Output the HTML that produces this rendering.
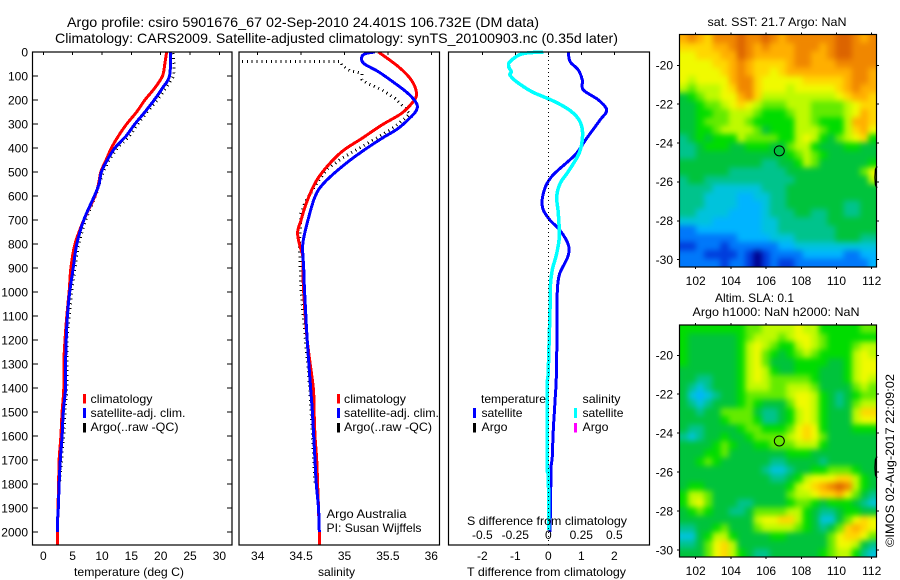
<!DOCTYPE html>
<html lang="en">
<head>
<meta charset="utf-8">
<title>Argo profile csiro 5901676_67</title>
<style>
html,body{margin:0;padding:0;background:#fff;width:900px;height:580px;overflow:hidden}
svg{display:block}
text{font-family:"Liberation Sans",sans-serif;font-size:12px;fill:#000}
.mid{text-anchor:middle}
.end{text-anchor:end}
</style>
</head>
<body>
<svg id="chart" xmlns="http://www.w3.org/2000/svg" width="900" height="580" viewBox="0 0 900 580">
  <defs>
    <filter id="smooth" x="-5%" y="-5%" width="110%" height="110%" color-interpolation-filters="sRGB">
      <feGaussianBlur stdDeviation="3"/>
      <feComponentTransfer><feFuncA type="linear" slope="60"/></feComponentTransfer>
    </filter>
    <clipPath id="clip-sst"><rect x="679.5" y="34.5" width="197" height="232.5"/></clipPath>
    <clipPath id="clip-sla"><rect x="679.5" y="325" width="197" height="232"/></clipPath>
    <clipPath id="clip-p2"><rect x="239" y="52" width="200" height="493"/></clipPath>
  </defs>
  <text x="67" y="27" font-size="14" style="font-size:14px" textLength="472" lengthAdjust="spacingAndGlyphs">Argo profile: csiro 5901676_67 02-Sep-2010 24.401S 106.732E (DM data)</text>
  <text x="55" y="43" style="font-size:14px" textLength="563" lengthAdjust="spacingAndGlyphs">Climatology: CARS2009. Satellite-adjusted climatology: synTS_20100903.nc (0.35d later)</text>

  <g id="heat-sst" clip-path="url(#clip-sst)"><g id="heat-sst-cells" filter="url(#smooth)"></g></g>
  <g id="heat-sla" clip-path="url(#clip-sla)"><g id="heat-sla-cells" filter="url(#smooth)"></g></g>
  <g id="marks"></g>
  <g id="axes"></g>

  <text x="74" y="576" textLength="110" lengthAdjust="spacingAndGlyphs">temperature (deg C)</text>
  <text x="318" y="576" textLength="37" lengthAdjust="spacingAndGlyphs">salinity</text>
  <text x="467" y="576" textLength="159" lengthAdjust="spacingAndGlyphs">T difference from climatology</text>
  <text x="467" y="525" textLength="160" lengthAdjust="spacingAndGlyphs">S difference from climatology</text>

  <g>
    <rect x="83" y="394" width="3" height="9.5" fill="#f00"/>
    <rect x="83" y="408" width="3" height="10" fill="#00f"/>
    <rect x="83" y="423" width="3" height="9.5" fill="#000"/>
    <text x="90.5" y="403" textLength="62" lengthAdjust="spacingAndGlyphs">climatology</text>
    <text x="90.5" y="417" textLength="95" lengthAdjust="spacingAndGlyphs">satellite-adj. clim.</text>
    <text x="90.5" y="431" textLength="88" lengthAdjust="spacingAndGlyphs">Argo(..raw -QC)</text>
  </g>
  <g>
    <rect x="337" y="394" width="3" height="9.5" fill="#f00"/>
    <rect x="337" y="408" width="3" height="10" fill="#00f"/>
    <rect x="337" y="423" width="3" height="9.5" fill="#000"/>
    <text x="344" y="403" textLength="62" lengthAdjust="spacingAndGlyphs">climatology</text>
    <text x="344" y="417" textLength="95" lengthAdjust="spacingAndGlyphs">satellite-adj. clim.</text>
    <text x="344" y="431" textLength="88" lengthAdjust="spacingAndGlyphs">Argo(..raw -QC)</text>
  </g>
  <text x="326.5" y="518" textLength="80" lengthAdjust="spacingAndGlyphs">Argo Australia</text>
  <text x="326.5" y="532" textLength="95" lengthAdjust="spacingAndGlyphs">PI: Susan Wijffels</text>

  <g>
    <text x="481" y="403" textLength="65" lengthAdjust="spacingAndGlyphs">temperature</text>
    <rect x="473" y="408" width="3" height="10" fill="#00f"/>
    <rect x="473" y="423" width="3" height="9.5" fill="#000"/>
    <text x="481.5" y="417" textLength="41" lengthAdjust="spacingAndGlyphs">satellite</text>
    <text x="481.5" y="431" textLength="26" lengthAdjust="spacingAndGlyphs">Argo</text>
    <text x="582.5" y="403" textLength="38" lengthAdjust="spacingAndGlyphs">salinity</text>
    <rect x="574" y="408" width="3" height="10" fill="#0ff"/>
    <rect x="574" y="423" width="3" height="9.5" fill="#f0f"/>
    <text x="582.5" y="417" textLength="41" lengthAdjust="spacingAndGlyphs">satellite</text>
    <text x="582.5" y="431" textLength="26" lengthAdjust="spacingAndGlyphs">Argo</text>
  </g>

  <text x="707.5" y="26" textLength="139" lengthAdjust="spacingAndGlyphs">sat. SST: 21.7 Argo: NaN</text>
  <text x="715" y="302" textLength="79" lengthAdjust="spacingAndGlyphs">Altim. SLA: 0.1</text>
  <text x="692.5" y="316" textLength="167" lengthAdjust="spacingAndGlyphs">Argo h1000: NaN h2000: NaN</text>
  <text transform="translate(894,547) rotate(-90)" x="0" y="0" textLength="173" lengthAdjust="spacingAndGlyphs">©IMOS 02-Aug-2017 22:09:02</text>
</svg>
<script>
// ---- profile depth grids and values ----
const tempClimDepth = [0,50,100,150,200,250,300,350,400,450,500,550,600,700,800,900,1000,1100,1200,1300,1400,1500,1600,1700,1800,1900,2000,2055];
const tempClim = [21.0,20.7,20.3,19.0,17.3,15.9,14.2,12.8,11.6,10.7,9.8,9.4,8.8,6.9,5.4,4.7,4.4,4.0,3.7,3.5,3.5,3.2,3.0,2.7,2.6,2.5,2.4,2.4];
const tempSatDepth = [0,100,150,200,250,300,350,400,450,500,550,600,700,800,900,1000,1100,1200,1300,1400,1500,1600,1700,1800,1900,1960,2000];
const tempSat = [21.7,21.5,20.3,18.9,17.3,15.6,14.1,12.2,10.9,9.9,9.5,8.7,6.9,5.7,5.1,4.5,4.1,3.9,3.8,3.8,3.4,3.2,2.9,2.7,2.55,2.4,2.4];
const tempArgoDepth = [5,50,100,150,200,250,300,350,400,450,500,600,700,800,900,1000,1200,1400,1500,1600,1700,1790];
const tempArgo = [22.1,22.3,22.2,20.9,19.4,17.7,16.1,14.7,12.6,11.2,10.2,8.9,7.2,6.0,5.4,4.8,4.0,4.0,3.7,3.5,3.1,2.8];

const salClimDepth = [0,61,117,172,207,255,304,360,415,485,547,630,700,750,800,850,900,1000,1200,1400,1500,1600,1700,1800,1900,2000,2055];
const salClim = [35.39,35.62,35.77,35.83,35.79,35.66,35.43,35.2,34.97,34.78,34.66,34.56,34.5,34.46,34.48,34.52,34.52,34.53,34.57,34.64,34.65,34.66,34.68,34.69,34.70,34.71,34.71];
const salSatDepth = [0,6,19,47,82,130,172,214,242,269,318,360,415,478,547,603,700,800,900,1000,1200,1400,1500,1600,1700,1800,1900,2000];
const salSat = [35.35,35.25,35.2,35.22,35.39,35.58,35.73,35.83,35.83,35.77,35.62,35.43,35.2,34.97,34.76,34.66,34.58,34.52,34.53,34.54,34.57,34.61,34.63,34.645,34.66,34.675,34.7,34.71];
const salArgoDepth = [39,39,54,78,89,114,128,158,193,235,258,276,311,346,394,443,485,547,630,672,800,1000,1200,1400,1800];
const salArgo = [33.82,34.95,34.97,35.06,35.2,35.2,35.25,35.43,35.58,35.7,35.75,35.7,35.58,35.43,35.2,34.97,34.81,34.68,34.54,34.5,34.48,34.5,34.55,34.6,34.66];

const diffTDepth = [0,40,75,117,158,200,242,283,360,429,519,589,651,700,742,804,853,922,978,1026,1325,1463,1575,1686,1742,1908,1963,2000];
const diffT = [0.61,0.66,0.91,1.03,1.06,1.52,1.77,1.57,1.16,0.81,0.1,-0.15,-0.17,0.05,0.35,0.61,0.59,0.35,0.28,0.27,0.25,0.2,0.15,0.12,0.08,0.07,0.05,0.05];
const diffSDepth = [0,8,40,61,82,96,124,165,189,214,249,290,346,422,499,547,603,672,769,839,908,978,1026,1325,1400,1728,1750,1992];
const diffS = [-0.038,-0.2,-0.29,-0.3,-0.28,-0.29,-0.24,-0.126,-0.025,0.076,0.177,0.24,0.26,0.233,0.15,0.09,0.064,0.076,0.083,0.064,0.03,0.015,0.015,0,-0.008,-0.008,0,0.005];

// ---- tick labels ----
const depthTicks = [0,100,200,300,400,500,600,700,800,900,1000,1100,1200,1300,1400,1500,1600,1700,1800,1900,2000];
const tempTicks = [0,5,10,15,20,25,30];
const salTicks = [34,34.5,35,35.5,36];
const diffTTicks = [-2,-1,0,1,2];
const diffSTicks = [-0.5,-0.25,0,0.25,0.5];
const diffSTickLabels = ['-0.5','-0.25','0','0.25','0.5'];
const lonTicks = [102,104,106,108,110,112];
const latTicks = [-20,-22,-24,-26,-28,-30];

// ---- map float position ----
const floatLon = 106.75;
const floatLat = -24.4;

// ---- colour-class grids ----
const sstGrid = [
[12,13,12,11,13,13,13,14,13,13,14,13,12,13,13,13,13,13,13,14,14,13,12,13],
[11,11,11,11,12,12,13,14,13,12,13,12,12,12,13,13,13,12,13,14,14,13,13,13],
[10,10,11,11,11,12,12,14,13,12,12,12,12,12,13,13,12,12,13,14,14,13,13,13],
[10,10,10,10,11,11,12,13,12,11,11,11,11,12,13,13,12,12,12,13,13,13,13,13],
[10,10,10,10,10,11,12,13,12,11,11,10,11,12,12,12,12,12,12,12,12,13,13,12],
[10,9,10,10,10,10,12,13,13,11,10,10,10,10,10,11,11,11,11,11,12,13,13,12],
[9,8,9,9,9,10,11,13,13,11,10,10,10,9,10,10,10,10,10,11,12,13,12,12],
[6,7,8,9,9,10,10,12,13,11,9,9,9,9,9,9,9,9,9,10,11,12,12,11],
[6,6,7,8,8,9,10,11,10,9,8,8,8,9,9,9,8,8,8,8,9,10,11,11],
[6,6,7,7,8,8,9,9,9,8,7,7,7,8,9,9,8,8,8,8,9,10,12,11],
[6,6,7,8,8,8,9,9,8,7,7,7,7,7,9,9,8,7,7,7,9,12,12,11],
[6,6,7,7,8,9,9,9,9,8,6,7,7,7,9,9,9,8,7,7,9,11,12,10],
[5,6,7,6,7,7,7,9,8,8,8,8,7,7,9,10,9,7,6,8,9,10,11,7],
[5,5,6,7,7,7,6,6,7,7,7,6,6,8,9,9,7,6,6,6,7,7,6,6],
[5,5,6,6,6,6,6,6,6,6,6,6,6,7,8,9,8,7,6,6,6,6,6,6],
[6,6,6,6,6,6,6,6,6,6,5,5,6,6,7,9,8,6,6,6,6,6,6,7],
[6,6,6,6,6,6,5,5,5,5,5,5,5,6,6,6,6,6,6,6,6,6,8,10],
[5,6,6,5,5,5,5,5,5,5,5,5,5,5,6,6,6,6,6,6,6,6,6,9],
[5,5,5,5,4,4,4,4,4,4,5,5,5,6,6,6,6,6,6,6,6,6,6,6],
[5,5,5,4,4,4,4,3,3,4,4,5,5,6,6,6,6,6,6,6,6,6,6,6],
[5,5,5,4,4,4,4,3,3,3,4,5,5,6,6,6,6,6,6,6,5,5,6,6],
[5,5,4,4,4,4,3,3,3,3,4,5,5,5,6,6,5,5,6,6,5,5,6,6],
[4,4,4,4,3,3,3,3,3,3,4,4,5,5,5,5,5,5,6,6,6,6,6,6],
[2,2,3,3,3,3,3,3,3,3,4,4,5,5,5,5,5,5,5,6,6,6,6,6],
[2,2,2,2,2,2,2,3,3,3,3,4,4,4,5,5,5,5,5,6,6,6,5,5],
[1,1,2,2,2,1,2,2,2,2,2,2,3,3,4,4,4,4,4,4,4,4,4,4],
[2,2,2,1,1,1,1,2,1,0,1,2,2,2,2,3,3,3,3,3,2,2,3,3],
[2,2,2,2,2,1,2,2,1,0,1,2,1,1,2,2,2,2,2,2,2,2,2,3]
];
const slaGrid = [
[7,7,7,7,7,7,7,7,8,8,9,9,9,9,10,9,9,7,7,7,7,7,8,8],
[7,6,6,6,6,6,6,7,8,9,9,9,8,9,10,10,9,8,7,7,7,7,7,7],
[7,6,6,6,6,6,6,7,9,10,9,8,7,7,9,10,9,8,7,7,7,8,9,9],
[7,6,6,6,6,6,6,7,9,10,8,7,6,7,8,9,8,7,7,7,7,9,10,9],
[7,6,6,6,6,6,6,7,9,10,8,6,6,6,7,7,7,7,6,6,7,9,10,10],
[6,6,6,6,6,6,6,7,9,10,9,7,6,6,7,7,7,6,6,6,7,9,10,10],
[6,6,5,5,6,6,6,7,9,10,9,8,8,8,8,8,7,6,6,6,7,9,10,9],
[6,5,4,5,6,6,6,7,9,9,9,8,8,9,9,9,8,6,6,6,6,8,9,8],
[6,4,3,4,5,6,6,7,8,8,8,8,8,9,10,10,9,7,6,5,6,7,8,8],
[6,5,4,5,6,6,6,7,8,7,6,6,6,8,10,10,9,7,6,5,6,8,9,9],
[6,6,5,6,6,8,8,8,8,6,5,5,6,7,9,10,9,7,6,6,6,9,11,11],
[6,6,6,6,6,7,8,8,8,7,5,5,6,7,9,10,9,7,6,6,6,9,10,10],
[6,5,5,6,6,6,6,7,8,8,7,7,7,8,10,11,10,7,6,6,6,7,7,7],
[5,4,5,6,6,7,6,6,7,8,8,8,8,9,10,11,10,8,6,6,6,6,6,6],
[6,6,6,6,7,8,7,6,6,7,7,8,8,8,9,9,9,7,6,6,6,6,6,6],
[6,6,6,7,7,8,6,6,6,6,6,6,6,7,7,7,6,6,6,6,6,6,6,6],
[6,6,7,8,7,6,6,6,6,6,6,5,5,6,6,6,6,5,6,6,6,6,6,6],
[6,6,6,6,6,6,6,6,6,6,5,4,4,5,6,6,7,7,8,8,8,7,6,6],
[6,6,6,6,6,6,6,6,6,6,6,5,5,6,7,9,10,10,10,11,11,9,7,6],
[6,7,7,6,6,6,6,6,6,6,6,6,6,7,9,10,11,12,13,14,13,9,7,6],
[7,9,9,8,6,6,6,6,6,6,6,6,6,8,9,9,10,11,11,12,10,8,6,5],
[7,9,10,8,6,6,6,5,5,6,6,6,6,7,8,8,7,6,7,7,7,6,5,4],
[6,7,8,7,6,6,5,5,6,8,8,8,8,9,9,7,6,5,5,6,7,7,6,6],
[6,6,6,6,6,6,6,6,6,9,10,10,11,11,9,7,6,4,4,6,8,10,11,10],
[5,5,6,6,7,8,6,6,6,8,9,9,9,9,8,7,6,5,6,8,11,12,11,10],
[4,4,6,7,9,9,7,6,6,6,6,7,7,6,6,6,6,6,8,10,11,11,10,8],
[5,5,6,8,10,11,9,6,6,6,6,6,6,6,6,6,6,6,8,10,10,9,6,5],
[6,6,6,8,10,11,9,7,6,5,5,6,6,6,6,6,6,7,8,9,9,7,5,4]
];
const mapPalette = ['#00008c','#003cdc','#0078fa','#00b4ff','#00c3dc','#00c38c','#00c33c','#00dc00','#64eb00','#befa00','#f0fa00','#ffd700','#ffaf00','#f08700','#dc6400'];

// ---- axis functions ----
const NS = 'http://www.w3.org/2000/svg';
const marks = document.getElementById('marks');
const axes = document.getElementById('axes');
const yDepth = d => 52 + 0.24 * d;
const xTemp = v => 43.3 + 5.87 * v;
const xSal = v => 257.7 + 86.8 * (v - 34);
const xDiffT = v => 548.3 + 33 * v;
const xDiffS = v => 548.3 + 132 * v;
const xLon = v => 695.7 + 17.6 * (v - 102);
const ySstLat = v => 65.3 - 19.44 * (v + 20);
const ySlaLat = v => 355.3 - 19.47 * (v + 20);

// Dotted Argo traces stay straight-segment; climatology and satellite traces are curved through their values.
function profile(parent, depths, values, xf, color, width, dash) {
  const pts = values.map((v, i) => [xf(v), yDepth(depths[i])]);
  const el = document.createElementNS(NS, 'path');
  let d = 'M' + pts[0][0].toFixed(1) + ' ' + pts[0][1].toFixed(1);
  for (let i = 0; i < pts.length - 1; i++) {
    const p0 = pts[Math.max(0, i - 1)], p1 = pts[i], p2 = pts[i + 1], p3 = pts[Math.min(pts.length - 1, i + 2)];
    if (dash) {
      d += ' L' + p2[0].toFixed(1) + ' ' + p2[1].toFixed(1);
    } else {
      const c1x = p1[0] + (p2[0] - p0[0]) / 6, c1y = p1[1] + (p2[1] - p0[1]) / 6;
      const c2x = p2[0] - (p3[0] - p1[0]) / 6, c2y = p2[1] - (p3[1] - p1[1]) / 6;
      d += ' C' + c1x.toFixed(1) + ' ' + c1y.toFixed(1) + ' ' + c2x.toFixed(1) + ' ' + c2y.toFixed(1) + ' ' + p2[0].toFixed(1) + ' ' + p2[1].toFixed(1);
    }
  }
  el.setAttribute('d', d);
  el.setAttribute('fill', 'none');
  el.setAttribute('stroke', color);
  el.setAttribute('stroke-width', width);
  if (dash) el.setAttribute('stroke-dasharray', dash);
  el.setAttribute('shape-rendering', 'crispEdges');
  parent.appendChild(el);
  return el;
}
function seg(x1, y1, x2, y2, w) {
  const el = document.createElementNS(NS, 'line');
  el.setAttribute('x1', x1); el.setAttribute('y1', y1);
  el.setAttribute('x2', x2); el.setAttribute('y2', y2);
  el.setAttribute('stroke', '#000');
  el.setAttribute('stroke-width', w || 1);
  el.setAttribute('shape-rendering', 'crispEdges');
  axes.appendChild(el);
  return el;
}
function label(x, y, str, cls) {
  const el = document.createElementNS(NS, 'text');
  el.setAttribute('x', x); el.setAttribute('y', y);
  if (cls) el.setAttribute('class', cls);
  el.textContent = str;
  axes.appendChild(el);
  return el;
}
function box(x, y, w, h) {
  const el = document.createElementNS(NS, 'rect');
  el.setAttribute('x', x); el.setAttribute('y', y);
  el.setAttribute('width', w); el.setAttribute('height', h);
  el.setAttribute('fill', 'none');
  el.setAttribute('stroke', '#000');
  el.setAttribute('stroke-width', 1.2);
  axes.appendChild(el);
  return el;
}

// temperature panel
let el;
el = profile(marks, tempArgoDepth, tempArgo, xTemp, '#000', 3, '1 3.8');


el = profile(marks, tempClimDepth, tempClim, xTemp, '#f00', 3);


el = profile(marks, tempSatDepth, tempSat, xTemp, '#00f', 3);



// salinity panel
const p2 = document.createElementNS(NS, 'g');
p2.setAttribute('clip-path', 'url(#clip-p2)');


marks.appendChild(p2);
el = profile(p2, salArgoDepth, salArgo, xSal, '#000', 3, '1 3.8');


el = profile(p2, salClimDepth, salClim, xSal, '#f00', 3);


el = profile(p2, salSatDepth, salSat, xSal, '#00f', 3);



// difference panel
el = seg(xDiffT(0), 52, xDiffT(0), 545, 1);
el.setAttribute('stroke-dasharray', '1 3');


el = profile(marks, diffTDepth, diffT, xDiffT, '#00f', 3);


el = profile(marks, diffSDepth, diffS, xDiffS, '#0ff', 3.5);



// panel frames
el = box(32.5, 52, 199.5, 493);


el = box(239, 52, 200.5, 493);


el = box(448.5, 52, 201, 493);



// depth axis
depthTicks.forEach(d => {
  const y = yDepth(d);
  let t = seg(32.5, y, 38, y);
  
  
  t = seg(227, y, 232, y);
  
  
  t = label(28, y + 4.3, String(d), 'end');
  
  
});
// temperature axis
tempTicks.forEach(v => {
  let t = seg(xTemp(v), 52, xTemp(v), 55);
  
  
  t = label(xTemp(v), 560, String(v), 'mid');
  
  
});
// salinity axis
salTicks.forEach(v => {
  let t = seg(xSal(v), 52, xSal(v), 55);
  
  
  t = label(xSal(v), 560, String(v), 'mid');
  
  
});
// difference axes
diffTTicks.forEach(v => {
  let t = seg(xDiffT(v), 52, xDiffT(v), 55);
  
  
  t = label(xDiffT(v), 560, String(v), 'mid');
  
  
});
diffSTicks.forEach((v, i) => {
  const t = label(xDiffS(v), 539, diffSTickLabels[i], 'mid');
  
  
});

// maps
function drawMap(targetId, grid, top, height) {
  const g = document.getElementById(targetId);
  const rows = grid.length, cols = grid[0].length;
  const cw = 197 / cols, ch = height / rows;
  grid.forEach((row, r) => row.forEach((v, c) => {
    const cell = document.createElementNS(NS, 'rect');
    cell.setAttribute('x', (679.5 + c * cw).toFixed(2));
    cell.setAttribute('y', (top + r * ch).toFixed(2));
    cell.setAttribute('width', (cw + 0.5).toFixed(2));
    cell.setAttribute('height', (ch + 0.5).toFixed(2));
    cell.setAttribute('fill', mapPalette[v]);
    
    
    g.appendChild(cell);
  }));
}
drawMap('heat-sst-cells', sstGrid, 34.5, 232.5);
drawMap('heat-sla-cells', slaGrid, 325, 232);

function mapFrame(top, bottom, yLat, name) {
  const fr = box(679.5, top, 197, bottom - top);
  
  
  lonTicks.forEach(v => {
    let t = seg(xLon(v), top - 2, xLon(v), top);
    
    
    t = seg(xLon(v), bottom, xLon(v), bottom + 2);
    
    
    t = label(xLon(v), bottom + 18, String(v), 'mid');
    
    
  });
  latTicks.forEach(v => {
    let t = seg(677, yLat(v), 679.5, yLat(v));
    
    
    t = seg(876.5, yLat(v), 879, yLat(v));
    
    
    t = label(673, yLat(v) + 4.3, String(v), 'end');
    
    
  });
  const c = document.createElementNS(NS, 'circle');
  c.setAttribute('cx', xLon(floatLon));
  c.setAttribute('cy', yLat(floatLat));
  c.setAttribute('r', 5);
  c.setAttribute('fill', 'none');
  c.setAttribute('stroke', '#000');
  c.setAttribute('stroke-width', 1);
  
  
  axes.appendChild(c);
  const coast = document.createElementNS(NS, 'path');
  const y0 = yLat(-25.2), y1 = yLat(-26.3);
  coast.setAttribute('d', 'M877 ' + y0 + ' L875.5 ' + (y0 + 3) + ' L875 ' + (y0 + 11) + ' L875.5 ' + (y1 - 3) + ' L877 ' + y1);
  coast.setAttribute('fill', 'none');
  coast.setAttribute('stroke', '#000');
  coast.setAttribute('stroke-width', 1.4);
  
  
  axes.appendChild(coast);
}
mapFrame(34.5, 267, ySstLat, 'sst-map');
mapFrame(325, 557, ySlaLat, 'sla-map');
</script>
</body>
</html>
